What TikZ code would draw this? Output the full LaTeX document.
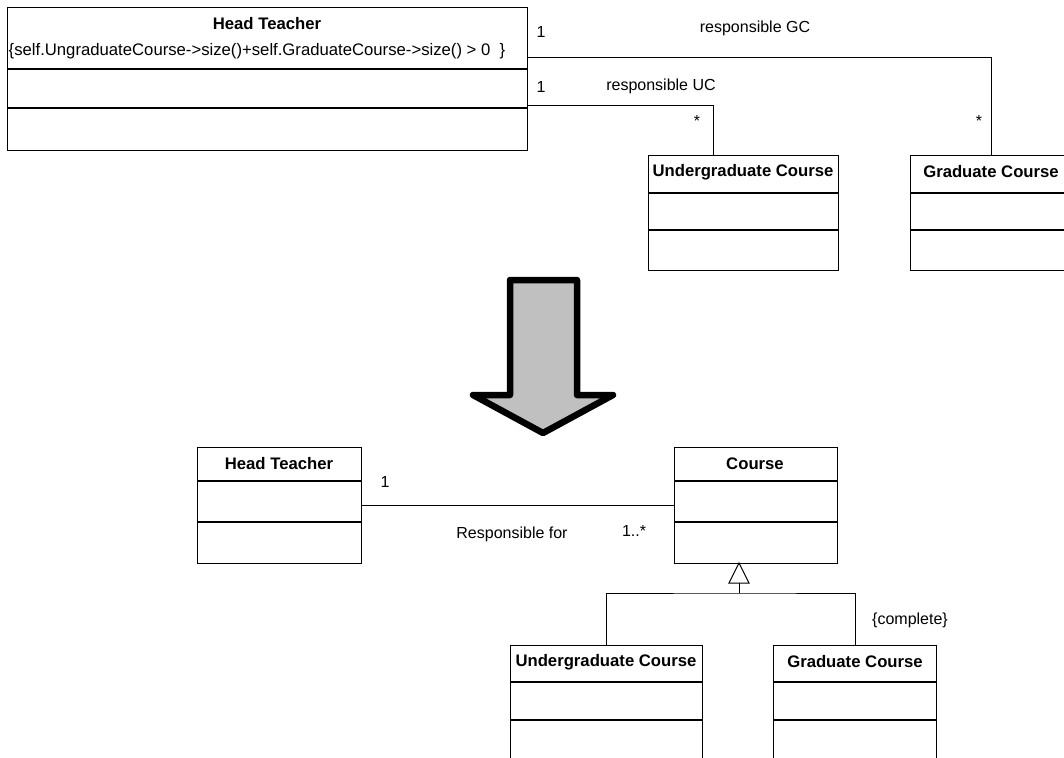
\documentclass[tikz,border=0pt]{standalone}
\usepackage{fontspec}
\setmainfont{Liberation Sans}
\begin{document}
\begin{tikzpicture}[x=1pt,y=-1pt,line width=1pt,
  box/.style={draw,line width=1.2pt,inner sep=0,anchor=north west},
  sep/.style={line width=2pt},
  conn/.style={line width=1pt},
  lbl/.style={font=\fontsize{16}{18}\selectfont,inner sep=0},
  ttl/.style={font=\bfseries\fontsize{16.7}{18}\selectfont,inner sep=0},
  bigarrow/.style={line width=6.5pt,line join=round,fill={rgb,255:red,192;green,192;blue,192}}]
\useasboundingbox (0,0) rectangle (1064,757);

% ---------- top part ----------
\node[box,minimum width=520,minimum height=143] (ht1) at (7,7) {};
\draw[sep] (7,69) -- (527,69);
\draw[sep] (7,108) -- (527,108);
\node[ttl] (ht1t) at (267,24) {Head Teacher};
\node[lbl,font=\fontsize{16.7}{18}\selectfont] (ht1c) at (257,51) {\{self.UngraduateCourse->size()+self.GraduateCourse->size() > 0~~\}};

\node[box,minimum width=190,minimum height=115] (ug1) at (648,155) {};
\draw[sep] (648,193) -- (838,193);
\draw[sep] (648,230) -- (838,230);
\node[ttl] (ug1t) at (743,172) {Undergraduate Course};

\node[box,minimum width=162,minimum height=115] (gc1) at (910,155) {};
\draw[sep] (910,193) -- (1072,193);
\draw[sep] (910,230) -- (1072,230);
\node[ttl] (gc1t) at (991,172) {Graduate Course};

\draw[conn] ([yshift=-51pt]ht1.north east) -| (gc1.north);
\draw[conn] ([yshift=-99pt]ht1.north east) -| ([xshift=-30pt]ug1.north);

\node[lbl] (m1) at (541,32) {1};
\node[lbl] (m2) at (541,87) {1};
\node[lbl] (rgc) at (755,28) {responsible GC};
\node[lbl] (ruc) at (661,86) {responsible UC};
\node[lbl] (s1) at (697,121) {*};
\node[lbl] (s2) at (979,121) {*};

% ---------- arrow ----------
\draw[bigarrow] (510,280) -- (577,280) -- (577,395) -- (613,395) -- (543,433) -- (473,395) -- (510,395) -- cycle;

% ---------- bottom part ----------
\node[box,minimum width=164,minimum height=116] (ht2) at (197,447) {};
\draw[sep] (197,481) -- (361,481);
\draw[sep] (197,522) -- (361,522);
\node[ttl] (ht2t) at (279,464) {Head Teacher};

\node[box,minimum width=163,minimum height=116] (co) at (674,447) {};
\draw[sep] (674,481) -- (837,481);
\draw[sep] (674,522) -- (837,522);
\node[ttl] (cot) at (755,464) {Course};

\draw[conn] ([yshift=-58pt]ht2.north east) -- ([yshift=-58pt]co.north west);
\node[lbl] (m3) at (385,482) {1};
\node[lbl] (rf) at (512,534) {Responsible for};
\node[lbl] (m4) at (634,531) {1..*};

\node[box,minimum width=192,minimum height=140] (ug2) at (510,645) {};
\draw[sep] (510,682) -- (702,682);
\draw[sep] (510,720) -- (702,720);
\node[ttl] (ug2t) at (606,662) {Undergraduate Course};

\node[box,minimum width=163,minimum height=140] (gc2) at (773,645) {};
\draw[sep] (773,682) -- (936,682);
\draw[sep] (773,720) -- (936,720);
\node[ttl] (gc2t) at (855,662) {Graduate Course};

\coordinate (tip) at (739,563);
\coordinate (base) at (739,583);
\coordinate (bar) at (739,593);
\draw[conn,line join=miter] (tip) -- (749,583) -- (729,583) -- cycle;
\draw[conn] (base) -- (bar);
\draw[conn] (ug2.north) |- (bar) -| (gc2.north);
\node[lbl] (cpl) at (910,620) {\{complete\}};
\end{tikzpicture}
\end{document}
